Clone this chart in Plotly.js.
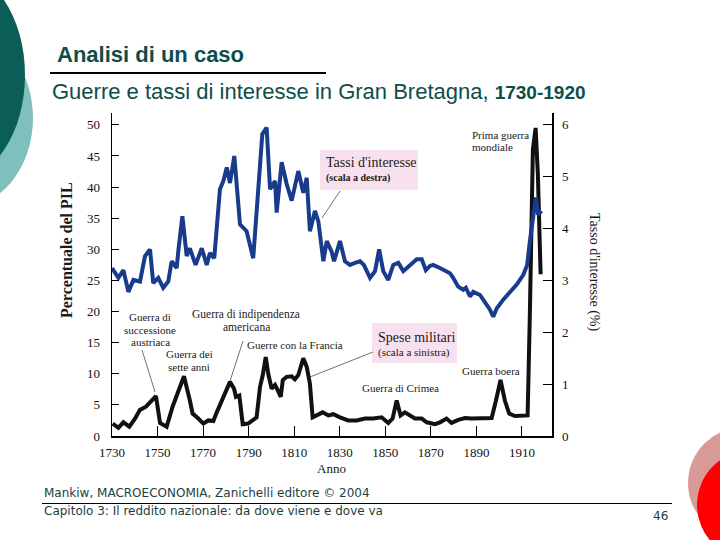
<!DOCTYPE html>
<html>
<head>
<meta charset="utf-8">
<script src="https://cdn.plot.ly/plotly-3.0.1.min.js"></script>
<style>
html,body{margin:0;padding:0;background:#fff;}
#chart{width:720px;height:540px;}
</style>
</head>
<body>
<div id="chart"></div>
<script>
// ---- Data ----
const rateYears = [1730,1732.8,1735,1737.2,1739.4,1742.3,1744.5,1746.7,1748.1,1750.3,1752.5,1754.7,1756.2,1758.4,1759.1,1760.9,1762.8,1764.2,1766.7,1769.4,1771.6,1773,1774.9,1777.4,1778.9,1780.4,1781.8,1783.7,1786.2,1789.1,1792,1794.2,1796,1797.9,1799.4,1801.6,1802.3,1804.5,1806.7,1808.9,1811.8,1814,1815.5,1816.9,1819.1,1820.6,1822.8,1824.3,1826.4,1827.5,1830.1,1832.3,1834.5,1836.7,1838.9,1840.6,1843.3,1845.5,1847.3,1849.1,1851.3,1853.5,1855.7,1857.9,1860.8,1863.8,1866,1867.8,1869.6,1871,1874,1878.4,1879.8,1882,1884.2,1885.4,1887.2,1888.6,1891.6,1893.7,1895.9,1897.4,1898.9,1901.8,1904.7,1907.7,1910.6,1912.3,1913.5,1915,1916.1,1917.1,1918.6];
const rateValues = [3.24,3.05,3.20,2.78,3.01,2.98,3.47,3.60,2.95,3.05,2.86,2.98,3.37,3.24,3.56,4.24,3.47,3.62,3.30,3.62,3.30,3.53,3.43,4.76,4.92,5.18,4.88,5.40,4.08,3.95,3.43,4.67,5.82,5.95,4.76,4.92,4.31,5.28,4.86,4.54,5.11,4.69,4.98,3.95,4.34,4.14,3.37,3.76,3.56,3.37,3.76,3.37,3.30,3.34,3.37,3.30,3.05,3.18,3.60,3.18,3.01,3.30,3.34,3.18,3.30,3.41,3.41,3.20,3.28,3.30,3.24,3.14,3.05,2.88,2.82,2.86,2.69,2.78,2.72,2.59,2.44,2.30,2.46,2.63,2.78,2.92,3.11,3.30,3.76,4.27,4.60,4.27,4.34];

const milYears = [1730.3,1732.8,1735,1737.6,1740.1,1742.3,1744.9,1747.4,1749.3,1751.1,1754,1756.6,1759.5,1761.6,1764.2,1765.4,1767.9,1770.1,1772.3,1774.5,1776,1778.9,1781.8,1783.6,1784.4,1785.9,1787.4,1789.8,1792,1793.5,1795,1796.2,1797.5,1798.6,1800.1,1801.6,1802.7,1804.1,1805,1806.7,1808.9,1810.3,1811.8,1814,1815.5,1816.9,1818.1,1819.9,1822.5,1825,1827.2,1830.1,1833.7,1837.4,1841.1,1844.7,1848.4,1851.3,1853.2,1855,1856.7,1858.6,1860.8,1863,1866,1868.2,1871.8,1874,1876.9,1879.1,1882,1885,1887.9,1892.3,1896.7,1898.6,1900.6,1902.5,1904.4,1906.9,1909.9,1912.5,1913.5,1914.8,1916,1917,1918.2];
const milValues = [2.0,1.3,2.2,1.5,2.8,4.2,4.7,5.7,6.4,2.1,1.5,4.7,7.6,9.6,5.7,3.6,2.8,2.0,2.5,2.4,3.8,6.3,8.7,7.6,6.3,6.5,1.9,2.0,2.5,3.0,7.9,9.8,12.7,10.0,7.6,8.2,7.4,6.3,9.0,9.5,9.6,9.1,9.8,12.5,11.1,8.4,3.0,3.3,3.8,3.3,3.5,3.0,2.5,2.5,2.8,2.8,3.0,2.1,2.8,5.7,3.3,3.8,3.3,2.8,2.8,2.2,1.9,2.2,2.8,2.1,2.6,2.9,2.8,2.8,2.9,5.7,9.0,5.7,3.6,3.2,3.3,3.3,20,46,49.5,42,26];

const xTickVals = [1730,1750,1770,1790,1810,1830,1850,1870,1890,1910];
const leftTicks = [0,5,10,15,20,25,30,35,40,45,50];
const rightTicks = [0,1,2,3,4,5,6];

// ---- Layout helpers (pixel -> paper) ----
const L = 112, R = 168, T = 113, B = 104;
const PW = 720 - L - R, PH = 540 - T - B;
const X = px => (px - L) / PW;
const Y = py => (540 - B - py) / PH;

const serif = 'Liberation Serif, Times New Roman, serif';
const sans = 'Liberation Sans, Arial, sans-serif';
const foot = 'DejaVu Sans, Verdana, sans-serif';
const teal = '#0D4E49';

function txt(text, px, py, size, opts) {
  opts = opts || {};
  return Object.assign({
    text: text, xref: 'paper', yref: 'paper', x: X(px), y: Y(py),
    xanchor: 'left', yanchor: 'middle', showarrow: false,
    font: {family: serif, size: size, color: '#1a1a1a'}
  }, opts);
}

const annotations = [
  // slide header
  txt('<b>Analisi di un caso</b>', 55, 55, 22, {font:{family:sans,size:22,color:teal}}),
  txt('Guerre e tassi di interesse in Gran Bretagna, <span style="font-size:19px"><b>1730-1920</b></span>', 50, 92, 22, {font:{family:sans,size:22,color:teal}}),
  // footer
  txt('Mankiw, MACROECONOMIA, Zanichelli editore © 2004', 42, 493, 12, {font:{family:foot,size:12,color:'#1E4040'}}),
  txt('Capitolo 3: Il reddito nazionale: da dove viene e dove va', 42, 511, 12, {font:{family:foot,size:12,color:'#1E4040'}}),
  txt('46', 670, 516, 12, {xanchor:'right', font:{family:foot,size:12,color:'#1E4040'}}),
  // axis titles
  txt('<b>Percentuale del PIL</b>', 66, 250, 16, {xanchor:'center', textangle:-90}),
  txt('Tasso d\'interesse (%)', 594, 272, 14, {xanchor:'center', textangle:90}),
  txt('Anno', 331, 468, 13, {xanchor:'center'}),
  // chart labels
  txt('Tassi d\'interesse', 324, 162, 14),
  txt('<b>(scala a destra)</b>', 324, 178, 10),
  txt('Spese militari', 376, 337, 14),
  txt('(scala a sinistra)', 376, 352, 11),
  txt('Prima guerra', 470, 135, 11),
  txt('mondiale', 470, 147, 11),
  txt('Guerra di', 150, 317, 11, {xanchor:'center'}),
  txt('successione', 150, 330, 11, {xanchor:'center'}),
  txt('austriaca', 150, 342, 11, {xanchor:'center'}),
  txt('Guerra dei', 189, 354, 11, {xanchor:'center'}),
  txt('sette anni', 189, 367, 11, {xanchor:'center'}),
  txt('Guerra di indipendenza', 246, 314, 11.5, {xanchor:'center'}),
  txt('americana', 246, 327, 11.5, {xanchor:'center'}),
  txt('Guerre con la Francia', 245, 345, 11),
  txt('Guerra di Crimea', 360, 388, 11),
  txt('Guerra boera', 460, 371, 11)
];

function ellipse(cx, cy, rx, ry, color) {
  return {type:'circle', xref:'paper', yref:'paper', layer:'below',
    x0:X(cx-rx), x1:X(cx+rx), y0:Y(cy+ry), y1:Y(cy-ry),
    fillcolor:color, line:{width:0}};
}
function seg(x0, y0, x1, y1, w, c) {
  return {type:'line', xref:'paper', yref:'paper', layer:'above',
    x0:X(x0), y0:Y(y0), x1:X(x1), y1:Y(y1), line:{color:c, width:w}};
}
function box(x0, y0, x1, y1, c) {
  return {type:'rect', xref:'paper', yref:'paper', layer:'below',
    x0:X(x0), y0:Y(y1), x1:X(x1), y1:Y(y0), fillcolor:c, line:{width:0}};
}

const shapes = [
  ellipse(-40, 118, 73, 90, '#80C0BC'),
  ellipse(-45, 75, 70, 105, '#0B5E57'),
  ellipse(744, 483, 56, 56, '#D99A97'),
  ellipse(752, 505, 55, 55, '#FF0000'),
  seg(50, 73, 326, 73, 2, '#000'),
  seg(42, 503.5, 672, 503.5, 1, '#000'),
  box(320, 150, 418, 190, '#F7E1EE'),
  box(372, 323, 457, 363, '#F7E1EE'),
  seg(340, 191, 322, 218, 0.7, '#333'),
  seg(373, 352, 310, 377, 0.7, '#333'),
  seg(142, 350, 155, 392, 0.7, '#333'),
  seg(243, 341, 230, 381, 0.7, '#333')
];

const traces = [
  {x: rateYears, y: rateValues, yaxis: 'y2', type: 'scatter', mode: 'lines',
   line: {color: '#183B8C', width: 4}, hoverinfo: 'skip'},
  {x: milYears, y: milValues, yaxis: 'y', type: 'scatter', mode: 'lines',
   line: {color: '#111111', width: 4}, hoverinfo: 'skip'}
];

const tickFont = {family: serif, size: 13, color: '#111'};
const layout = {
  width: 720, height: 540,
  margin: {l: L, r: R, t: T, b: B, pad: 0},
  paper_bgcolor: '#fff', plot_bgcolor: 'rgba(0,0,0,0)',
  showlegend: false,
  xaxis: {range: [1730, 1923.2], tickmode: 'array', tickvals: xTickVals,
    ticktext: xTickVals.map(String), ticks: 'inside', ticklen: 10, tickwidth: 1,
    tickcolor: '#000', showline: true, linecolor: '#000', linewidth: 1.5,
    showgrid: false, zeroline: false, tickfont: tickFont, ticklabelstandoff: 4},
  yaxis: {range: [0, 51.9], tickmode: 'array', tickvals: leftTicks,
    ticks: 'inside', ticklen: 7, tickcolor: '#000', showline: true,
    linecolor: '#000', linewidth: 1.5, showgrid: false, zeroline: false,
    tickfont: tickFont, ticklabelstandoff: 8},
  yaxis2: {range: [0, 6.23], overlaying: 'y', side: 'right', tickmode: 'array',
    tickvals: rightTicks, ticks: 'inside', ticklen: 9, tickcolor: '#000',
    showline: true, linecolor: '#000', linewidth: 1.5, showgrid: false,
    zeroline: false, tickfont: tickFont, ticklabelstandoff: 6},
  annotations: annotations,
  shapes: shapes
};

Plotly.newPlot('chart', traces, layout, {displayModeBar: false, staticPlot: true});
</script>
</body>
</html>
